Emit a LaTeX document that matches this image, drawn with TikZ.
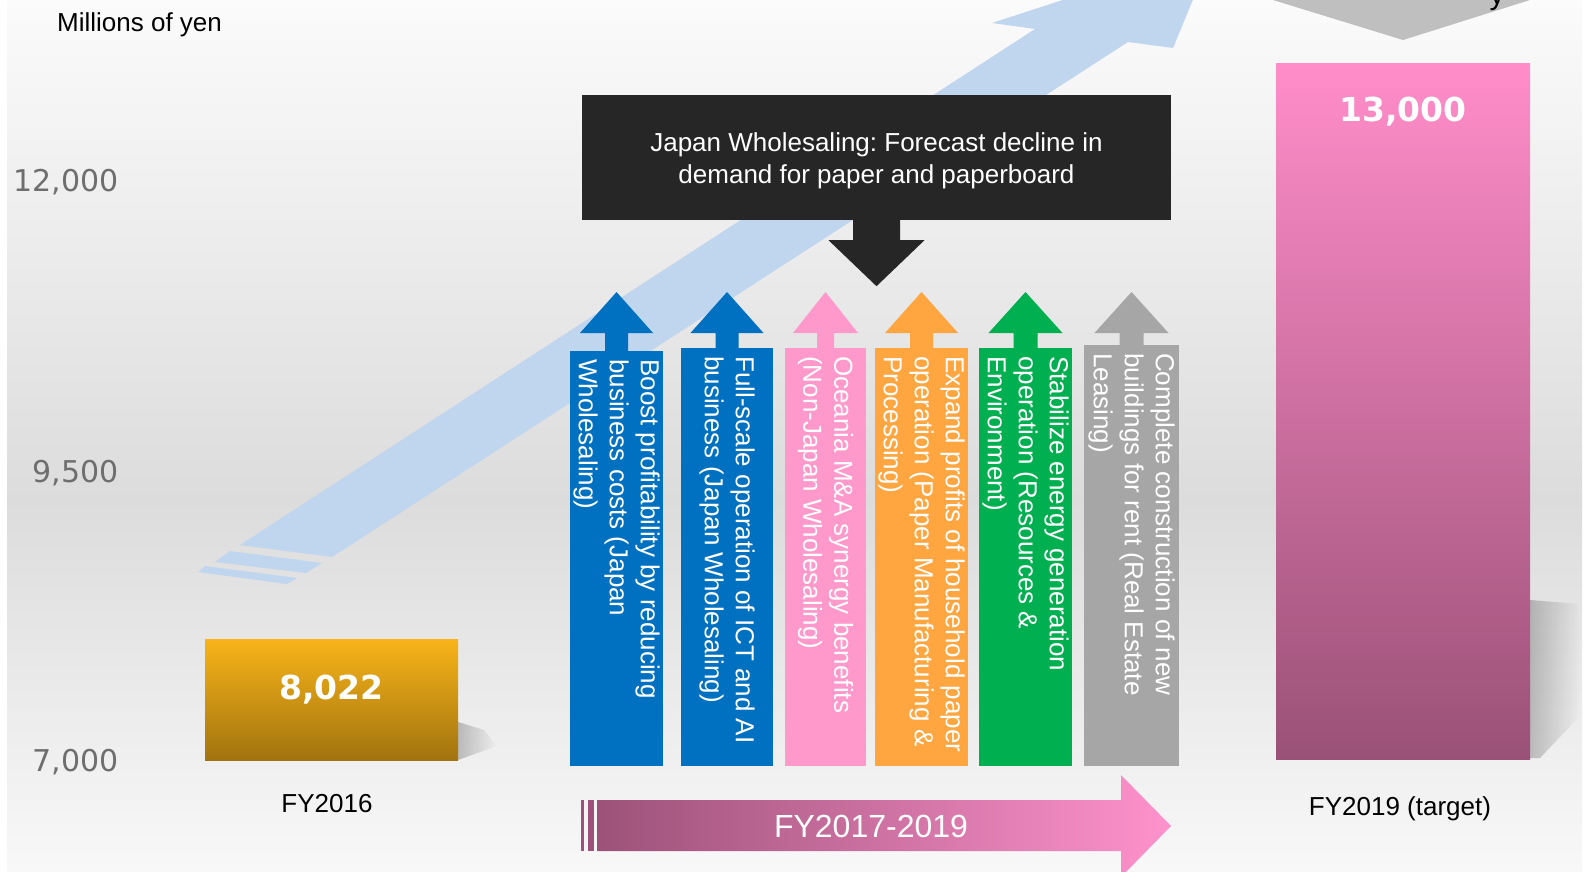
\documentclass[tikz,border=0pt]{standalone}
\usepackage{fontspec}
\setmainfont{Liberation Sans}
\newfontfamily\numfont{DejaVu Sans}
\usetikzlibrary{positioning,fadings}
\frenchspacing

\definecolor{bgTop}{HTML}{FBFBFB}
\definecolor{bgMid}{HTML}{DCDCDC}
\definecolor{bgBot}{HTML}{F8F8F8}
\definecolor{bandBlue}{HTML}{C0D5EE}
\definecolor{goldTop}{HTML}{F8B419}
\definecolor{goldBot}{HTML}{A2740F}
\definecolor{pinkTop}{HTML}{FF8DC9}
\definecolor{pinkBot}{HTML}{9A5177}
\definecolor{boxBlack}{HTML}{262626}
\definecolor{colBlue}{HTML}{0070C0}
\definecolor{colPink}{HTML}{FF99CC}
\definecolor{colOrange}{HTML}{FFA640}
\definecolor{colGreen}{HTML}{00B050}
\definecolor{colGray}{HTML}{A6A6A6}
\definecolor{chevGray}{HTML}{BFBFBF}
\definecolor{axisGray}{HTML}{6E6E6E}
\definecolor{periodLeft}{HTML}{9C5279}
\definecolor{periodRight}{HTML}{FF92CC}

\tikzfading[name=fadeOutRight,left color=transparent!0,right color=transparent!100]

\begin{document}
\begin{tikzpicture}
[x=1pt,y=-1pt,%
  bigText/.style={font=\fontsize{26}{32}\selectfont},%
  axisLabel/.style={anchor=base east,inner sep=0pt,text=axisGray,font=\numfont\fontsize{30}{30}\selectfont},%
  barValue/.style={anchor=base,inner sep=0pt,text=white,font=\numfont\bfseries\fontsize{33}{33}\selectfont},%
  barShadow/.style={fill=black,fill opacity=0.22,path fading=fadeOutRight},%
  colText/.style={rotate=-90,anchor=west,inner sep=0pt,text=white,align=left,font=\fontsize{26}{31}\selectfont}]
%% background
\useasboundingbox (0,0) rectangle (1587,871);
\clip (0,0) rectangle (1587,871);
\fill[white] (0,0) rectangle (1587,871);
\shade[top color=bgTop,bottom color=bgMid] (7,0) rectangle (1582,500);
\shade[top color=bgMid,bottom color=bgBot] (7,500) rectangle (1582,871);
%% rising arrow in the back
\fill[bandBlue] (240,545) -- (332,557) -- (1128,42) -- (1173,48) -- (1213,-49)
  -- (992,23) -- (1035,29) -- cycle;
\fill[bandBlue] (230,551) -- (322,563) -- (306,573) -- (215,562) -- cycle;
\fill[bandBlue] (205,566) -- (297,578) -- (287,584) -- (198,572) -- cycle;
%% shadows
\fill[barShadow] (458,722) -- (484,730) -- (497,746) -- (458,760) -- cycle;
\fill[barShadow] (1530,600) -- (1580,604) -- (1580,716) -- (1540,758) -- (1530,758) -- cycle;
%% bars
\node (bar2016) at (331.5,699.5) [minimum width=253pt,minimum height=121pt,
  inner sep=0pt,top color=goldTop,bottom color=goldBot] {};
\node (bar2019) at (1403,411) [minimum width=254pt,minimum height=696pt,
  inner sep=0pt,top color=pinkTop,bottom color=pinkBot] {};
\node (val2016) [barValue] at ([yshift=-61pt]bar2016.north) {8,022};
\node (val2019) [barValue] at ([yshift=-59pt]bar2019.north) {13,000};
\node (lab2016) [bigText,anchor=base] at (327,812) {FY2016};
\node (lab2019) [bigText,anchor=base] at (1400,815) {FY2019 (target)};
%% axis
\node (unit) [bigText,anchor=base west,inner sep=0pt] at (57,31) {Millions of yen};
\foreach \axname/\y/\val in {ax12/191/{12,000}, ax95/482/{9,500}, ax7/771/{7,000}}
{
  \node (\axname) [axisLabel] at (119,\y) {\val};
}
%% chevron at the top
\fill[chevGray] (1273,-5) -- (1273,0) -- (1403,40) -- (1530,0) -- (1530,-5) -- cycle;
\node (cutY) [anchor=base,inner sep=0pt,font=\fontsize{30}{30}\selectfont] at (1497,4) {y};
%% forecast box
\node (forecast) [fill=boxBlack,minimum width=589pt,minimum height=125pt,
  inner sep=0pt] at (876.5,157.5) {};
\node (forecastText) [bigText,text=white,align=center,inner sep=0pt]
  at ([yshift=-3pt]forecast.center)
  {Japan Wholesaling: Forecast decline in\\demand for paper and paperboard};
\fill[boxBlack] ([xshift=-23.5pt]forecast.south) -- ++(0,20) -- ++(-24.5,0)
  -- ++(48,46) -- ++(48,-46) -- ++(-24.5,0) -- ++(0,-20) -- cycle;
%% measures
\foreach \colname/\cx/\ytop/\hw/\hh/\sw/\col/\txt in {
  boost/616.5/351/46.5/36.5/11.5/colBlue/{Boost profitability by reducing\\business costs (Japan\\Wholesaling)},
  ict/727/348/46/36.5/11.5/colBlue/{Full-scale operation of ICT and AI\\business (Japan Wholesaling)},
  oceania/825.5/348/40.5/32.5/8.5/colPink/{Oceania M\&A synergy benefits\\(Non-Japan Wholesaling)},
  household/921.5/348/46.5/36.5/11.5/colOrange/{Expand profits of household paper\\operation (Paper Manufacturing \&\\Processing)},
  energy/1025.5/348/46.5/37/12/colGreen/{Stabilize energy generation\\operation (Resources \&\\Environment)},
  rent/1131.5/345/47.5/37/12/colGray/{Complete construction of new\\buildings for rent (Real Estate\\Leasing)}}
{
  \fill[\col] (\cx-\hw,\ytop) rectangle (\cx+\hw,766);
  \fill[\col] (\cx-\sw,\ytop) -- (\cx-\sw,333) -- (\cx-\hh,333) -- (\cx,292)
    -- (\cx+\hh,333) -- (\cx+\sw,333) -- (\cx+\sw,\ytop) -- cycle;
  \node (\colname) [colText] at (\cx,\ytop+8) {\txt};
}
%% period arrow
\shade[left color=periodLeft,right color=periodRight] (597,800) -- (1121,800)
  -- (1121,775) -- (1171,826) -- (1121,877) -- (1121,851) -- (597,851) -- cycle;
\fill[periodLeft] (581,800) rectangle (584,851);
\fill[periodLeft] (588,800) rectangle (594,851);
\node (period) [text=white,font=\fontsize{32}{32}\selectfont] at (871,826) {FY2017-2019};
\end{tikzpicture}
\end{document}
